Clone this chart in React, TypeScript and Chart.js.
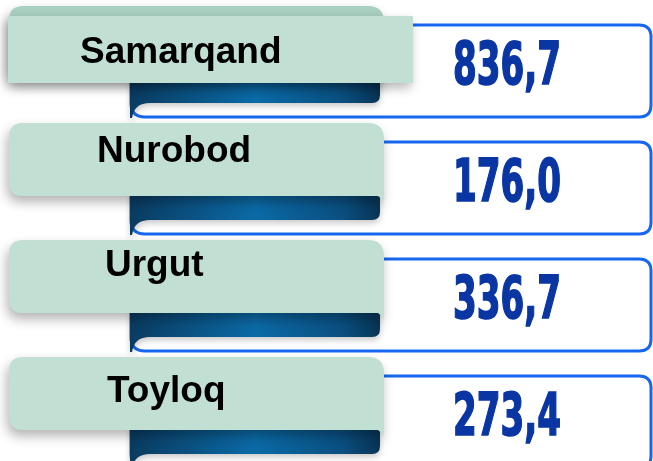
import { useEffect, useRef } from "react";
import { Chart, registerables } from "chart.js";

Chart.register(...registerables);

// ---- data ----
const districts: string[] = ["Samarqand", "Nurobod", "Urgut", "Toyloq"];
const values: number[] = [836.7, 176.0, 336.7, 273.4];

const fmt = (v: number) => v.toFixed(1).replace(".", ",");

// ---- styling / layout nudges (not data) ----
const labelX = [80, 97, 105, 107];
const labelDY = [38, 20, 17, 26];

function roundRectPath(
  ctx: CanvasRenderingContext2D,
  x0: number,
  y0: number,
  x1: number,
  y1: number,
  r: [number, number, number, number]
) {
  const [tl, tr, br, bl] = r;
  ctx.beginPath();
  ctx.moveTo(x0 + tl, y0);
  ctx.lineTo(x1 - tr, y0);
  ctx.quadraticCurveTo(x1, y0, x1, y0 + tr);
  ctx.lineTo(x1, y1 - br);
  ctx.quadraticCurveTo(x1, y1, x1 - br, y1);
  ctx.lineTo(x0 + bl, y1);
  ctx.quadraticCurveTo(x0, y1, x0, y1 - bl);
  ctx.lineTo(x0, y0 + tl);
  ctx.quadraticCurveTo(x0, y0, x0 + tl, y0);
  ctx.closePath();
}

const panelPlugin = {
  id: "panelPlugin",
  afterDatasetsDraw(chart: any) {
    const ctx: CanvasRenderingContext2D = chart.ctx;
    const yScale = chart.scales.y;
    const labels: string[] = chart.data.labels;
    const data: number[] = chart.data.datasets[0].data;

    labels.forEach((label, i) => {
      const A = yScale.getPixelForValue(i) - 33.5;

      // value box
      ctx.save();
      roundRectPath(ctx, 131, A, 651, A + 92, [6, 12, 12, 14]);
      ctx.fillStyle = "#ffffff";
      ctx.fill();
      ctx.lineWidth = 3;
      ctx.strokeStyle = "#1766ee";
      ctx.stroke();
      ctx.restore();

      // ribbon
      ctx.save();
      ctx.shadowColor = "rgba(0,0,0,0.22)";
      ctx.shadowBlur = 6;
      ctx.shadowOffsetY = 3;
      ctx.beginPath();
      ctx.moveTo(130, A + 50);
      ctx.lineTo(380, A + 50);
      ctx.lineTo(380, A + 70);
      ctx.quadraticCurveTo(380, A + 78, 372, A + 78);
      ctx.lineTo(150, A + 78);
      ctx.quadraticCurveTo(134, A + 78, 132, A + 93);
      ctx.lineTo(130, A + 93);
      ctx.closePath();
      const g = ctx.createLinearGradient(130, 0, 380, 0);
      g.addColorStop(0, "#0a3b60");
      g.addColorStop(0.5, "#0b6aa6");
      g.addColorStop(0.85, "#0a4f80");
      g.addColorStop(1, "#083454");
      ctx.fillStyle = g;
      ctx.fill();
      ctx.restore();

      // green label panel
      const T = A - 19;
      const B = A + 54;
      ctx.save();
      ctx.shadowColor = "rgba(0,0,0,0.3)";
      ctx.shadowBlur = 12;
      ctx.shadowOffsetX = -2;
      ctx.shadowOffsetY = 6;
      ctx.beginPath();
      ctx.moveTo(9 + 14, T);
      ctx.lineTo(384 - 16, T);
      ctx.quadraticCurveTo(384, T, 384, T + 16);
      ctx.lineTo(384, B + 5);
      ctx.lineTo(378, B);
      ctx.lineTo(9 + 14, B);
      ctx.quadraticCurveTo(9, B, 9, B - 14);
      ctx.lineTo(9, T + 14);
      ctx.quadraticCurveTo(9, T, 9 + 14, T);
      ctx.closePath();
      ctx.fillStyle = i === 0 ? "#a9cfc1" : "#c2dfd4";
      ctx.fill();
      ctx.restore();

      if (i === 0) {
        ctx.save();
        ctx.shadowColor = "rgba(0,0,0,0.28)";
        ctx.shadowBlur = 10;
        ctx.shadowOffsetX = -2;
        ctx.shadowOffsetY = 5;
        ctx.fillStyle = "#c2dfd4";
        ctx.fillRect(8, A - 9, 405, 67);
        ctx.restore();
      }

      // label text
      ctx.save();
      ctx.fillStyle = "#000000";
      ctx.font = "bold 37px 'Liberation Sans', Arial, sans-serif";
      ctx.textAlign = "left";
      ctx.textBaseline = "alphabetic";
      ctx.fillText(label, labelX[i], A + labelDY[i]);
      ctx.restore();

      // value text
      const txt = fmt(data[i]);
      ctx.save();
      ctx.font = "bold 58px 'Liberation Sans Narrow', 'DejaVu Sans Condensed', sans-serif";
      ctx.fillStyle = "#0a36a3";
      ctx.strokeStyle = "#0a36a3";
      ctx.lineWidth = 1.6;
      ctx.lineJoin = "miter";
      ctx.textAlign = "center";
      ctx.textBaseline = "alphabetic";
      const w = ctx.measureText("836,7").width;
      const sx = Math.min(1.2, 108 / w);
      ctx.translate(507, A + 59);
      ctx.scale(sx, 1);
      ctx.fillText(txt, 0, 0);
      ctx.strokeText(txt, 0, 0);
      ctx.restore();
    });
  },
};

export default function App() {
  const canvasRef = useRef<HTMLCanvasElement | null>(null);

  useEffect(() => {
    const canvas = canvasRef.current;
    if (!canvas) return;
    const chart = new Chart(canvas, {
      type: "bar",
      data: {
        labels: districts,
        datasets: [
          {
            label: "Qiymat",
            data: values,
            backgroundColor: "rgba(0,0,0,0)",
            borderWidth: 0,
          },
        ],
      },
      options: {
        indexAxis: "y",
        responsive: false,
        animation: false,
        devicePixelRatio: 1,
        layout: { padding: 0 },
        plugins: {
          legend: { display: false },
          tooltip: { enabled: false },
        },
        scales: {
          x: { display: false, min: 0, max: 1000 },
          y: { display: false, type: "category", offset: true },
        },
      },
      plugins: [panelPlugin],
    });
    return () => chart.destroy();
  }, []);

  return (
    <div style={{ position: "fixed", left: 0, top: 0, width: 653, height: 468, background: "#fff" }}>
      <canvas ref={canvasRef} width={653} height={468} style={{ display: "block", width: 653, height: 468 }} />
    </div>
  );
}
